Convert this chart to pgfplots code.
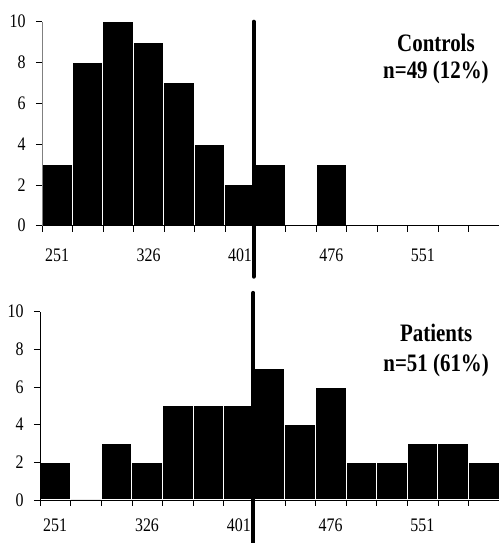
\documentclass[border=0pt]{standalone}
\usepackage{pgfplots}
\pgfplotsset{compat=1.18}
\usepackage{fontspec}
\setmainfont{Liberation Serif}
\begin{document}
\begin{tikzpicture}
\path[use as bounding box] (0,0) rectangle (499bp,543bp);
\pgfplotsset{hist/.style={
  scale only axis,
  xmin=-0.5, xmax=14.5, ymin=0, ymax=10,
  axis x line*=bottom, axis y line*=left,
  axis line style={-},
  axis on top,
  ytick={0,2,...,10},
  xtick={-0.5,0.5,...,14.5},
  xticklabels={251,,,326,,,401,,,476,,,551,,,},
  xticklabel style={xshift=15.2bp},
  yticklabel style={xshift=-7bp},
  tick align=outside, major tick length=6bp,
  tick style={black, line width=0.6bp},
  tick label style={font=\fontsize{16}{16}\selectfont, yscale=1.2},
  /pgf/number format/assume math mode=true,
  clip=false,
}}
\tikzset{ttl/.style={font=\bfseries\fontsize{21}{21}\selectfont, yscale=1.2}}
\begin{axis}[hist, width=457bp, height=204bp, at={(42bp,317.3bp)}, anchor=south west,
  y axis line style={gray},
  xticklabel style={yshift=-11bp}]
\addplot[ybar, bar width=1, bar shift=0, fill=black, draw=white, line width=1bp]
 coordinates {(0,3) (1,8) (2,10) (3,9) (4,7) (5,4) (6,2) (7,3) (8,0) (9,3) (10,0) (11,0) (12,0) (13,0) (14,0)};
\addplot[black, line width=4bp, line cap=round] coordinates {(6.45,-2.5) (6.45,10)};
\node[ttl] at (rel axis cs:0.862,0.896) {Controls};
\node[ttl] at (rel axis cs:0.862,0.753) {n=49 (12\%)};
\end{axis}
\begin{axis}[hist, width=459bp, height=188.3bp, at={(40bp,43bp)}, anchor=south west,
  xticklabel style={yshift=-7bp}]
\addplot[ybar, bar width=1, bar shift=0, fill=black, draw=white, line width=1bp]
 coordinates {(0,2) (1,0) (2,3) (3,2) (4,5) (5,5) (6,5) (7,7) (8,4) (9,6) (10,2) (11,2) (12,3) (13,3) (14,2)};
\addplot[black, line width=4bp, line cap=round] coordinates {(6.47,-2.4) (6.47,11.0)};
\node[ttl] at (rel axis cs:0.863,0.887) {Patients};
\node[ttl] at (rel axis cs:0.863,0.712) {n=51 (61\%)};
\end{axis}
\end{tikzpicture}
\end{document}
